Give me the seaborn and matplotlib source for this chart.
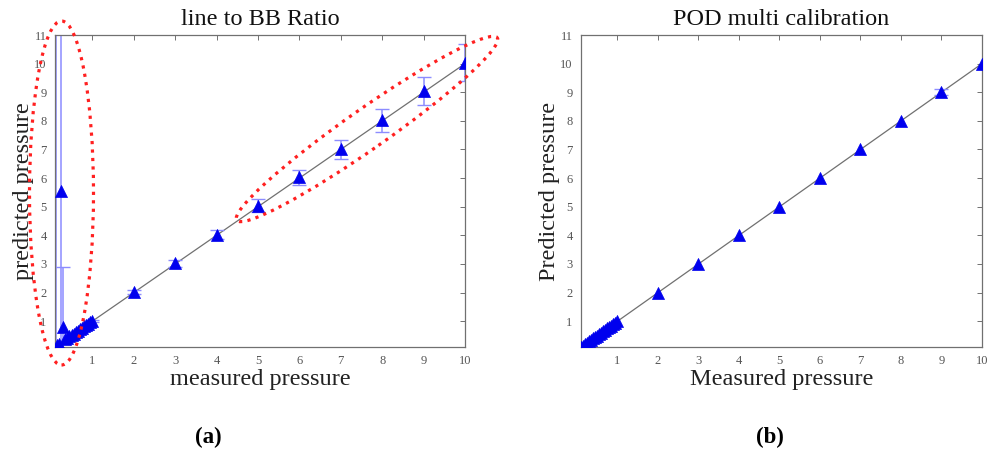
import matplotlib
matplotlib.use("Agg")
import matplotlib.pyplot as plt
from matplotlib.patches import Ellipse
import seaborn as sns
import pandas as pd

# ---------------- data ----------------
measured_a = [0.12, 0.15, 0.2, 0.24, 0.3, 0.35, 0.4, 0.45, 0.5, 0.55, 0.6, 0.65,
              0.7, 0.75, 0.8, 0.85, 0.9, 0.95, 1.0, 2, 3, 4, 5, 6, 7, 8, 9, 10]
predicted_a = [15.0, 0.16, 0.21, 5.55, 0.8, 0.37, 0.42, 0.47, 0.52, 0.57, 0.62, 0.67,
               0.72, 0.77, 0.82, 0.86, 0.91, 0.96, 1.01, 2.02, 3.03, 4.03, 5.03, 6.03,
               7.01, 8.02, 9.04, 10.03]
error_a = [15.0, 0.0, 0.0, 8.0, 2.1, 0.0, 0.0, 0.0, 0.0, 0.0, 0.0, 0.0,
           0.0, 0.0, 0.0, 0.0, 0.0, 0.0, 0.03, 0.06, 0.12, 0.15, 0.23, 0.26,
           0.33, 0.41, 0.48, 0.65]

measured_b = [0.1, 0.15, 0.2, 0.25, 0.3, 0.35, 0.4, 0.45, 0.5, 0.55, 0.6, 0.65,
              0.7, 0.75, 0.8, 0.85, 0.9, 0.95, 1.0, 2, 3, 4, 5, 6, 7, 8, 9, 10]
predicted_b = [0.1, 0.15, 0.2, 0.25, 0.3, 0.35, 0.4, 0.45, 0.5, 0.55, 0.6, 0.65,
               0.7, 0.75, 0.8, 0.85, 0.9, 0.95, 1.0, 2.0, 3.0, 4.0, 5.0, 6.02, 7.01,
               8.0, 9.02, 10.0]
error_b = [0.0, 0.0, 0.0, 0.0, 0.0, 0.0, 0.0, 0.0, 0.0, 0.0, 0.0, 0.0,
           0.0, 0.0, 0.0, 0.0, 0.0, 0.0, 0.0, 0.0, 0.0, 0.0, 0.0, 0.0,
           0.0, 0.0, 0.11, 0.0]

ref_line = [0.1, 10]
x_ticks = [1, 2, 3, 4, 5, 6, 7, 8, 9, 10]
y_ticks = [1, 2, 3, 4, 5, 6, 7, 8, 9, 10, 11]

titles = ["line to BB Ratio", "POD multi calibration"]
xlabels = ["measured pressure", "Measured pressure"]
ylabels = ["predicted pressure", "Predicted pressure"]
panel_tags = ["(a)", "(b)"]

# ---------------- style ----------------
sns.set_theme(style="white")
plt.rcParams["font.family"] = ["Liberation Serif", "DejaVu Serif"]

W, H = 988, 455
fig = plt.figure(figsize=(W / 100, H / 100), dpi=100)
ax1 = fig.add_axes([55 / W, 108 / H, 410 / W, 312 / H])
ax2 = fig.add_axes([581 / W, 108 / H, 401 / W, 312 / H])

panels = [
    (ax1, measured_a, predicted_a, error_a),
    (ax2, measured_b, predicted_b, error_b),
]

for i, (ax, xs, ys, es) in enumerate(panels):
    df = pd.DataFrame({"measured": xs, "predicted": ys, "err": es})
    ax.plot(ref_line, ref_line, color="#707070", lw=0.9, zorder=1)
    eb = df[df["err"] > 0]
    ax.errorbar(eb["measured"], eb["predicted"], yerr=eb["err"], fmt="none",
                ecolor="#8c8cff", elinewidth=1.1, capsize=5, capthick=1.0,
                zorder=2)
    sns.scatterplot(data=df, x="measured", y="predicted", ax=ax, marker="^",
                    s=75, color="#0000ee", edgecolor="#0000ee", linewidth=0.5,
                    zorder=3, legend=False)
    ax.set_xlim(0.1, 10)
    ax.set_ylim(0.1, 11)
    ax.set_xticks(x_ticks)
    ax.set_yticks(y_ticks)
    ax.tick_params(direction="in", top=True, right=True, length=3.5, width=0.7,
                   color="#707070", labelcolor="#555555", labelsize=9, pad=6)
    for sp in ax.spines.values():
        sp.set_color("#707070")
        sp.set_linewidth(0.9)
        sp.set_visible(True)
    ax.set_title(titles[i], fontsize=17.5, color="#111111", pad=7)
    ax.set_xlabel(xlabels[i], fontsize=17.5, color="#222222", labelpad=1)
    ax.set_ylabel(ylabels[i], fontsize=17.5, color="#222222", labelpad=0)

# panel tags
fig.text(208 / W, 1 - 437 / H, panel_tags[0], ha="center", va="center",
         fontsize=16.5, fontweight="bold", color="black")
fig.text(770 / W, 1 - 437 / H, panel_tags[1], ha="center", va="center",
         fontsize=16.5, fontweight="bold", color="black")

# red dotted ellipses overlay (in image pixel coordinates)
ov = fig.add_axes([0, 0, 1, 1], facecolor="none")
ov.set_xlim(0, W)
ov.set_ylim(0, H)
ov.axis("off")
ov.add_patch(Ellipse((61.5, H - 193), 64, 344, angle=0, fill=False,
                     edgecolor="#ff2020", lw=2.3, ls=":"))
ov.add_patch(Ellipse((367, H - 129), 318, 40, angle=35, fill=False,
                     edgecolor="#ff2020", lw=2.3, ls=":"))

fig.savefig("out.png", dpi=100)
